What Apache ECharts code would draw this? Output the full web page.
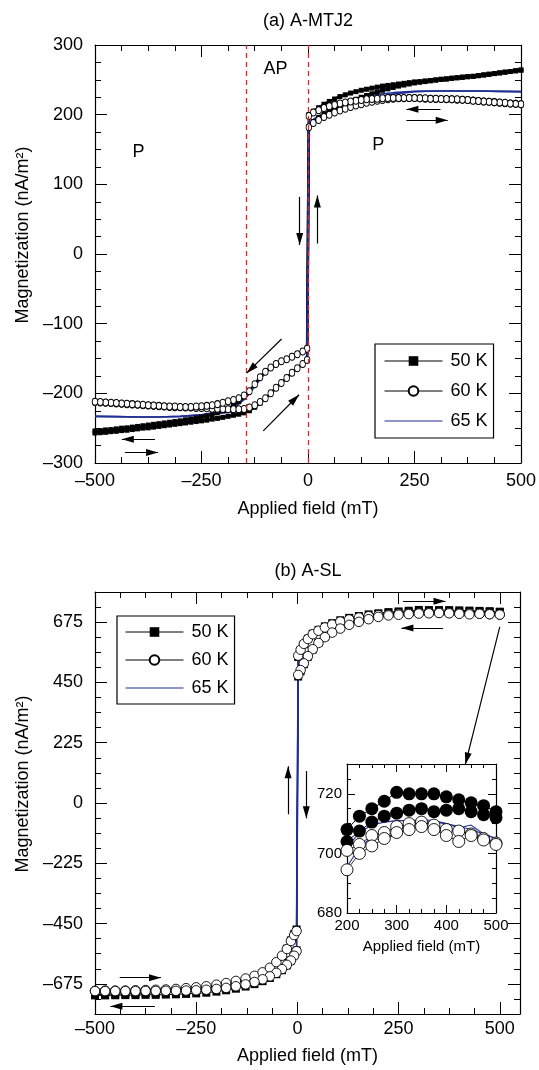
<!DOCTYPE html>
<html>
<head>
<meta charset="utf-8">
<title>Magnetization loops</title>
<script src="https://cdn.jsdelivr.net/npm/echarts/dist/echarts.min.js"></script>
<style>
  html, body { margin: 0; padding: 0; background: #fff; }
  #chart { width: 539px; height: 1070px; }
</style>
</head>
<body>
<div id="chart"></div>
<script>
// ---------- panel (a): A-MTJ2 ----------
// field grids (mT)
const FIELD_A_POS = [2, 12.5, 25, 37.5, 50, 62.5, 75, 87.5, 100, 112.5, 125, 137.5, 150, 162.5, 175, 187.5, 200, 212.5, 225, 237.5, 250, 262.5, 275, 287.5, 300, 312.5, 325, 337.5, 350, 362.5, 375, 387.5, 400, 412.5, 425, 437.5, 450, 462.5, 475, 487.5, 500];
const FIELD_A_NEG = [-500, -487.5, -475, -462.5, -450, -437.5, -425, -412.5, -400, -387.5, -375, -362.5, -350, -337.5, -325, -312.5, -300, -287.5, -275, -262.5, -250, -237.5, -225, -212.5, -200, -187.5, -175, -162.5, -150, -137.5, -125, -112.5, -100, -87.5, -75, -62.5, -50, -37.5, -25, -12.5, -2];
const FIELD_A65_POS = [2, 12.5, 25, 50, 75, 100, 125, 150, 175, 200, 250, 300, 350, 400, 450, 500];
const FIELD_A65_NEG = [-500, -450, -400, -350, -300, -250, -200, -175, -150, -137.5, -125, -112.5, -100, -87.5, -75, -62.5, -50, -37.5, -25, -12.5, -2];

// magnetization (nA/m^2): "inc" = field sweeping up, "dec" = field sweeping down
const M50A_INC_NEG = [-257, -256.5, -256, -255, -254.5, -253.5, -253, -252, -251, -250, -249.5, -248.5, -247.5, -246.5, -245.5, -244.5, -243.5, -242.5, -241.5, -240.5, -239.5, -238.5, -237, -236, -234.5, -233, -231.5, -230, -228, -225, -220, -214, -207.5, -200, -192, -185, -178, -170.5, -164, -158, -152];
const M50A_INC_POS = [183, 190, 196, 201, 205, 209, 213, 216, 219, 222, 225, 227.5, 230, 232.5, 235, 237, 239, 241, 242.5, 244, 245.5, 246.5, 247.5, 248.5, 249.5, 250.5, 251, 252, 253, 253.5, 254.5, 255, 256, 257, 258, 259, 260, 261, 262, 263, 264];
const M50A_DEC_POS = [200, 205, 210, 215, 219, 222.5, 226, 228.5, 231, 233, 235, 236.5, 238, 239.5, 241, 242, 243, 244, 245, 246, 247, 247.5, 248.5, 249, 250, 251, 251.5, 252.5, 253, 254, 254.5, 255, 256, 257, 258, 259, 260, 261, 262, 263, 264];
const M50A_DEC_NEG = [-254, -253.5, -252.5, -252, -251, -250, -249.5, -248.5, -247.5, -246.5, -245.5, -244.5, -243.5, -242.5, -241.5, -240.5, -239.5, -238, -237, -235.5, -234, -232.5, -230.5, -228, -225, -221.5, -217.5, -212, -205, -197, -187, -177, -169, -163, -158, -154, -150.5, -147, -143.5, -139.5, -135];

const M60A_INC_NEG = [-212.5, -213, -213.5, -214, -214.5, -215, -215.5, -216, -216.5, -217, -217.5, -218, -218.5, -219, -219.5, -220, -220, -220.5, -220.5, -221, -221, -221.5, -222, -222, -222.5, -223, -223, -223, -222.5, -220.5, -217, -212.5, -207, -200, -192, -185, -178, -170.5, -164, -158, -152];
const M60A_INC_POS = [182, 188, 192.5, 196.5, 200, 203, 206, 208.5, 211, 213, 215, 217, 218.5, 220, 221, 222, 223, 223.5, 223.5, 224, 224, 223.5, 223, 223, 222.5, 222.5, 222, 222, 221.5, 221.5, 221, 220.5, 219.5, 219, 218.5, 218, 217, 216.5, 216, 215.5, 215];
const M60A_DEC_POS = [198, 203, 206.5, 209.5, 212, 214, 216, 217.5, 219, 220, 221, 222, 222.5, 223, 223.5, 224, 224, 224, 224, 224, 224, 223.5, 223.5, 223, 223, 222.5, 222.5, 222, 222, 221.5, 221, 220, 219.5, 219, 218.5, 218, 217.5, 217, 216, 215.5, 215];
const M60A_DEC_NEG = [-212, -212.5, -213, -213.5, -214, -214.5, -215, -215.5, -216, -216.5, -217, -217.5, -218, -218.5, -219, -219, -219.5, -219.5, -219.5, -219, -218.5, -218, -217, -215.5, -213.5, -211.5, -209.5, -207, -203, -197, -187, -177, -169, -163, -158, -154, -151, -147.5, -144, -140, -136];

const M65A_INC_NEG = [-233, -233.5, -234, -234, -233, -231, -228, -226.5, -224.5, -222, -218, -213, -207, -199, -191.5, -184, -177, -169.5, -163, -157, -153];
const M65A_INC_POS = [187, 193, 198, 205, 211, 216, 220, 224, 227, 229.5, 233, 234, 234, 234, 233.5, 233];
const M65A_DEC_POS = [195, 201, 206, 213, 218, 222, 225.5, 228, 230, 231.5, 233.5, 234, 234, 234, 233.5, 233];
const M65A_DEC_NEG = [-233, -233.5, -234, -234, -233, -231, -226, -221, -209, -200, -190, -180, -171, -165, -160, -156, -152.5, -149, -145.5, -141.5, -137];

// phase boundaries (mT), sweep arrows [H0, M0, H1, M1], region labels
const PHASE_LINES_A = [-145, 0];
const ARROWS_A = [
  [-359, -266, -437, -266],
  [-430, -285, -352, -285],
  [-62, -122, -144, -171],
  [-105, -254, -21, -202],
  [-19.5, 82, -19.5, 13],
  [22, 15, 22, 84],
  [311, 207.6, 231, 207.6],
  [231, 192, 328, 192]
];
const LABELS_A = [['AP', -76, 265], ['P', -398, 147], ['P', 165, 157]];

// ---------- panel (b): A-SL ----------
const FIELD_B_POS = [2, 8, 16, 26, 38, 52, 68, 86, 106, 128, 152, 176, 200, 225, 250, 275, 300, 325, 350, 375, 400, 425, 450, 475, 500];
const FIELD_B_NEG = [-500, -475, -450, -425, -400, -375, -350, -325, -300, -275, -250, -225, -200, -176, -152, -128, -106, -86, -68, -52, -38, -26, -16, -8, -2];

const M50B_INC_NEG = [-715, -714, -713, -712, -711, -710, -709, -707, -705, -702, -698, -693, -687, -680, -672, -662, -651, -637, -619, -597, -571, -544, -513, -490, -472];
const M50B_INC_POS = [545, 570, 593, 613, 632, 646, 659, 671, 682, 691, 698, 704, 708, 712.5, 715, 717.5, 720.5, 720, 720, 720, 719, 718, 717, 716, 714];
const M50B_DEC_POS = [472, 492, 518, 546, 573, 598, 620, 639, 655, 669, 682, 694, 704, 707.5, 710.5, 712.5, 713.5, 714.5, 715, 714, 714.5, 715, 714, 713, 712];
const M50B_DEC_NEG = [-718, -718, -717.5, -717, -717, -716, -716, -715, -714, -712.5, -710.5, -708, -704, -699, -693, -685, -676, -665, -653, -639, -624, -606, -588, -568, -550];

const M60B_INC_NEG = [-701, -700, -700, -700, -699, -698, -697, -696, -694, -691, -688, -684, -678, -672, -664, -655, -645, -632, -615, -594, -570, -545, -515, -493, -478];
const M60B_INC_POS = [550, 572, 594, 612, 630, 643, 655, 666, 677, 685, 692, 697, 701, 703, 706, 707, 709, 710, 710.5, 709.5, 708, 707.5, 706.5, 705, 703.5];
const M60B_DEC_POS = [478, 496, 521, 548, 574, 597, 619, 636, 651, 665, 676, 686, 694.5, 700, 702.5, 705, 707, 708, 709, 708, 706, 704, 706, 704.5, 703];
const M60B_DEC_NEG = [-702, -702, -702, -702, -702, -701.5, -701.5, -701, -701, -700, -699, -697, -694, -690, -684, -677, -668, -658, -647, -634, -620, -604, -588, -570, -553];

const M65B_INC_NEG = [-707, -707, -706, -706, -705, -704, -703, -701, -699, -696, -692, -688, -682, -676, -668, -659, -648, -634, -617, -595, -570, -545, -514, -492, -476];
const M65B_INC_POS = [548, 571, 593, 612, 630, 644, 656, 667, 678, 686, 693, 698, 702, 707, 709.5, 710.5, 711, 711, 711.3, 711, 710, 709, 708, 706.5, 705];
const M65B_DEC_POS = [476, 494, 520, 547, 573, 597, 619, 636, 652, 666, 677, 687, 695.5, 702, 705.5, 704, 707, 710, 710.5, 710.5, 710, 708.5, 709.5, 706.5, 705];
const M65B_DEC_NEG = [-708, -708, -707.5, -707, -707, -706, -705.5, -705, -704.5, -704, -703, -701, -698, -694, -688, -681, -672, -661, -650, -636, -622, -605, -588, -570, -552];

const ARROWS_B = [
  [261, 753, 366, 753],
  [360, 653, 257, 653],
  [-439, -652, -337, -652],
  [-352, -759, -462, -759],
  [-23, -42, -23, 137],
  [22, 119, 22, -57],
  [500, 657, 415, 144]
];

// ---------- tick labels ----------
const TICKS_A_X = [-500, -250, 0, 250, 500];
const TICKS_A_Y = [-300, -200, -100, 0, 100, 200, 300];
const TICKS_B_X = [-500, -250, 0, 250, 500];
const TICKS_B_Y = [-675, -450, -225, 0, 225, 450, 675];
const TICKS_IN_X = [200, 300, 400, 500];
const TICKS_IN_Y = [680, 700, 720];

const SERIES_NAMES = ['50 K', '60 K', '65 K'];

// ---------- styling ----------
const FONT = "'Liberation Sans', Arial, Helvetica, sans-serif";
const BLUE = '#1f2f95';
const RED = '#e8202a';

const fmtTick = v => (v < 0 ? '\u2013' + Math.abs(v) : String(v));

function minorTicks(range, step, majors) {
  const out = [];
  const n = Math.round((range[1] - range[0]) / step);
  for (let i = 1; i < n + 1; i++) {
    const v = Math.round((range[0] + i * step) * 1000) / 1000;
    if (v < range[1] && majors.indexOf(v) < 0) out.push(v);
  }
  return out;
}

// four axes per dimension: labelled side, mirrored side, and minor ticks on both
function axisGroup(dim, gridIndex, range, majors, minorStep, o) {
  const minors = minorTicks(range, minorStep, majors);
  const sides = dim === 'x' ? ['bottom', 'top'] : ['left', 'right'];
  const mk = (position, values, len, withLine, withLabels) => {
    const ax = {
      type: 'value', gridIndex, position, min: range[0], max: range[1],
      axisLine: withLine ? { show: true, onZero: false, lineStyle: { color: '#000', width: 1.2 } } : { show: false, onZero: false },
      splitLine: { show: false },
      axisTick: { show: true, inside: true, length: len, customValues: values, lineStyle: { color: '#000', width: 1 } },
      axisLabel: withLabels
        ? { show: true, customValues: majors, formatter: fmtTick, fontSize: o.fontSize, fontFamily: FONT, color: '#000', margin: o.margin }
        : { show: false },
      axisPointer: { show: false }
    };
    if (withLabels && o.name) {
      ax.name = o.name;
      ax.nameLocation = 'middle';
      ax.nameGap = o.nameGap;
      ax.nameTextStyle = { fontSize: o.nameSize || o.fontSize, fontFamily: FONT, color: '#000', padding: o.namePadding || 0 };
    }
    return ax;
  };
  return [
    mk(sides[0], majors, o.major, true, true),
    mk(sides[1], majors, o.major, true, false),
    mk(sides[0], minors, o.minor, false, false),
    mk(sides[1], minors, o.minor, false, false)
  ];
}

const pairs = (xs, ys) => xs.map((x, i) => [x, ys[i]]);
const upSweep = (xn, yn, xp, yp) => pairs(xn, yn).concat(pairs(xp, yp));
const downSweep = (xn, yn, xp, yp) => pairs(xp, yp).reverse().concat(pairs(xn, yn).reverse());

const YNAME = 'Magnetization (nA/m\u00B2)';

const xAxes = []
  .concat(axisGroup('x', 0, [-500, 500], TICKS_A_X, 62.5, { fontSize: 18, margin: 9, major: 12, minor: 6, name: 'Applied field (mT)', nameGap: 37 }))
  .concat(axisGroup('x', 1, [-500, 550], TICKS_B_X, 62.5, { fontSize: 18, margin: 6, major: 12, minor: 6, name: 'Applied field (mT)', nameGap: 33 }))
  .concat(axisGroup('x', 2, [200, 500], TICKS_IN_X, 25, { fontSize: 15, margin: 5, major: 8, minor: 4, name: 'Applied field (mT)', nameGap: 26 }));
const yAxes = []
  .concat(axisGroup('y', 0, [-300, 300], TICKS_A_Y, 25, { fontSize: 18, margin: 12, major: 12, minor: 6, name: YNAME, nameGap: 57, namePadding: [0, 0, 0, 38] }))
  .concat(axisGroup('y', 1, [-787.5, 787.5], TICKS_B_Y, 56.25, { fontSize: 18, margin: 12, major: 12, minor: 6, name: YNAME, nameGap: 57, namePadding: [0, 0, 0, 38] }))
  .concat(axisGroup('y', 2, [680, 730], TICKS_IN_Y, 5, { fontSize: 15, margin: 5, major: 8, minor: 4 }));

const STYLE = {
  '50 K': { symbol: 'rect', lineStyle: { color: '#000', width: 2.6 }, itemStyle: { color: '#000' } },
  '60 K': { symbol: 'circle', lineStyle: { color: '#000', width: 0.8 }, itemStyle: { color: '#fff', borderColor: '#000', borderWidth: 0.9 } },
  '65 K': { symbol: 'none', lineStyle: { color: BLUE, width: 1.7 }, itemStyle: { color: BLUE } }
};

function curve(name, data, axisIndex, size, extra) {
  const s = STYLE[name];
  return Object.assign({
    name, type: 'line', data, xAxisIndex: axisIndex, yAxisIndex: axisIndex,
    symbol: s.symbol, symbolSize: size, showAllSymbol: true,
    lineStyle: Object.assign({}, s.lineStyle), itemStyle: Object.assign({}, s.itemStyle),
    animation: false, silent: true, clip: true
  }, extra || {});
}

const inInset = p => p[0] >= 200;
const thinBlack = { lineStyle: { color: '#000', width: 1 } };

const series = [
  // panel (a)
  curve('50 K', upSweep(FIELD_A_NEG, M50A_INC_NEG, FIELD_A_POS, M50A_INC_POS), 0, 5),
  curve('50 K', downSweep(FIELD_A_NEG, M50A_DEC_NEG, FIELD_A_POS, M50A_DEC_POS), 0, 5),
  curve('60 K', upSweep(FIELD_A_NEG, M60A_INC_NEG, FIELD_A_POS, M60A_INC_POS), 0, [5.5, 7]),
  curve('60 K', downSweep(FIELD_A_NEG, M60A_DEC_NEG, FIELD_A_POS, M60A_DEC_POS), 0, [5.5, 7]),
  curve('65 K', upSweep(FIELD_A65_NEG, M65A_INC_NEG, FIELD_A65_POS, M65A_INC_POS), 0, 4),
  curve('65 K', downSweep(FIELD_A65_NEG, M65A_DEC_NEG, FIELD_A65_POS, M65A_DEC_POS), 0, 4),
  // panel (b)
  curve('50 K', upSweep(FIELD_B_NEG, M50B_INC_NEG, FIELD_B_POS, M50B_INC_POS), 4, 8, thinBlack),
  curve('50 K', downSweep(FIELD_B_NEG, M50B_DEC_NEG, FIELD_B_POS, M50B_DEC_POS), 4, 8, thinBlack),
  curve('60 K', upSweep(FIELD_B_NEG, M60B_INC_NEG, FIELD_B_POS, M60B_INC_POS), 4, 9.5),
  curve('60 K', downSweep(FIELD_B_NEG, M60B_DEC_NEG, FIELD_B_POS, M60B_DEC_POS), 4, 9.5),
  curve('65 K', upSweep(FIELD_B_NEG, M65B_INC_NEG, FIELD_B_POS, M65B_INC_POS), 4, 4),
  curve('65 K', downSweep(FIELD_B_NEG, M65B_DEC_NEG, FIELD_B_POS, M65B_DEC_POS), 4, 4),
  // inset of panel (b): high-field end of the same sweeps
  curve('50 K', pairs(FIELD_B_POS, M50B_INC_POS).filter(inInset), 8, 13, { symbol: 'circle', lineStyle: { color: '#000', width: 1 } }),
  curve('50 K', pairs(FIELD_B_POS, M50B_DEC_POS).filter(inInset), 8, 13, { symbol: 'circle', lineStyle: { color: '#000', width: 1 } }),
  curve('60 K', pairs(FIELD_B_POS, M60B_INC_POS).filter(inInset), 8, 12),
  curve('60 K', pairs(FIELD_B_POS, M60B_DEC_POS).filter(inInset), 8, 12),
  curve('65 K', pairs(FIELD_B_POS, M65B_INC_POS).filter(inInset), 8, 4, { lineStyle: { color: BLUE, width: 1.1 } }),
  curve('65 K', pairs(FIELD_B_POS, M65B_DEC_POS).filter(inInset), 8, 4, { lineStyle: { color: BLUE, width: 1.1 } })
];

function arrowLines(list) {
  return list.map(a => [
    { coord: [a[0], a[1]] },
    { coord: [a[2], a[3]], symbol: 'triangle', symbolSize: [7, 12], symbolOffset: [0, 6] }
  ]);
}

// panel (a) annotations: phase boundaries, sweep arrows, region labels
series.push({
  type: 'line', xAxisIndex: 0, yAxisIndex: 0, data: [], silent: true, animation: false,
  markLine: {
    silent: true, animation: false, symbol: ['none', 'none'], label: { show: false },
    lineStyle: { color: RED, type: [5, 4], width: 1.3 },
    emphasis: { disabled: true },
    data: PHASE_LINES_A.map(v => ({ xAxis: v }))
  }
});
series.push({
  type: 'line', xAxisIndex: 0, yAxisIndex: 0, data: [], silent: true, animation: false,
  markLine: {
    silent: true, animation: false, symbol: ['none', 'triangle'], label: { show: false },
    lineStyle: { color: '#000', type: 'solid', width: 1.2 },
    itemStyle: { color: '#000' },
    emphasis: { disabled: true },
    data: arrowLines(ARROWS_A)
  },
  markPoint: {
    silent: true, animation: false, symbol: 'rect', symbolSize: 1,
    itemStyle: { color: 'rgba(0,0,0,0)' },
    label: { show: true, position: 'inside', color: '#000', fontSize: 18, fontFamily: FONT, formatter: p => p.name },
    data: LABELS_A.map(l => ({ name: l[0], coord: [l[1], l[2]] }))
  }
});
// panel (b) sweep arrows and the pointer to the inset
series.push({
  type: 'line', xAxisIndex: 4, yAxisIndex: 4, data: [], silent: true, animation: false,
  markLine: {
    silent: true, animation: false, symbol: ['none', 'triangle'], label: { show: false },
    lineStyle: { color: '#000', type: 'solid', width: 1.2 },
    itemStyle: { color: '#000' },
    emphasis: { disabled: true },
    data: arrowLines(ARROWS_B)
  }
});

const legendBase = {
  orient: 'vertical', itemWidth: 58, itemHeight: 12, selectedMode: false,
  borderColor: '#000', borderWidth: 1.2, backgroundColor: '#fff',
  textStyle: { fontSize: 18, fontFamily: FONT, color: '#000', padding: [0, 0, 0, 3] },
  lineStyle: { width: 1 },
  data: [SERIES_NAMES[0], SERIES_NAMES[1], { name: SERIES_NAMES[2], itemStyle: { opacity: 0 } }]
};

const option = {
  backgroundColor: '#fff',
  animation: false,
  title: [
    { text: '(a) A-MTJ2', left: 308, top: 12, padding: 0, textAlign: 'center', textStyle: { fontSize: 18, fontWeight: 'normal', fontFamily: FONT, color: '#000' } },
    { text: '(b) A-SL', left: 308, top: 562, padding: 0, textAlign: 'center', textStyle: { fontSize: 18, fontWeight: 'normal', fontFamily: FONT, color: '#000' } }
  ],
  grid: [
    { left: 95, top: 45, width: 427, height: 418, containLabel: false },
    { left: 95, top: 592, width: 425, height: 422, containLabel: false },
    { left: 347, top: 764, width: 149, height: 149, containLabel: false }
  ],
  legend: [
    Object.assign({}, legendBase, { left: 375, top: 344, padding: [8, 6, 8, 9], itemGap: 12 }),
    Object.assign({}, legendBase, { left: 117, top: 616, padding: [7, 6, 7, 8], itemGap: 10 })
  ],
  xAxis: xAxes,
  yAxis: yAxes,
  series
};

const chart = echarts.init(document.getElementById('chart'), null, { renderer: 'canvas' });
chart.setOption(option);
</script>
</body>
</html>
